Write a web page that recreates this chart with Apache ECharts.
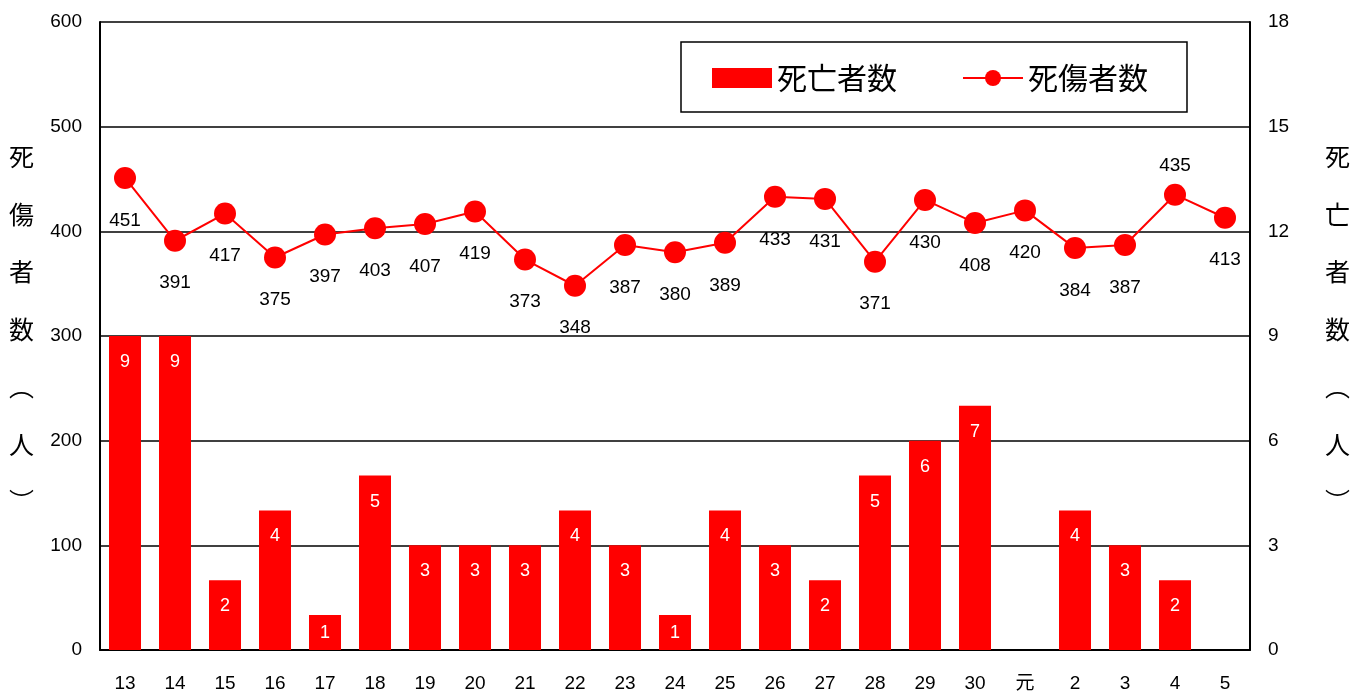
<!DOCTYPE html>
<html>
<head>
<meta charset="utf-8">
<script src="https://cdn.jsdelivr.net/npm/echarts@6/dist/echarts.min.js"></script>
<style>
  html, body { margin: 0; padding: 0; background: #fff; }
  #chart { width: 1354px; height: 693px; }
</style>
</head>
<body>
<div id="chart"></div>
<script>
// Year labels (平成13〜30, 令和元〜5)
const years = ['13','14','15','16','17','18','19','20','21','22','23','24','25','26','27','28','29','30','元','2','3','4','5'];
// 死亡者数 (right axis); null = no fatalities recorded
const deaths = [9, 9, 2, 4, 1, 5, 3, 3, 3, 4, 3, 1, 4, 3, 2, 5, 6, 7, null, 4, 3, 2, null];
// 死傷者数 (left axis)
const casualties = [451, 391, 417, 375, 397, 403, 407, 419, 373, 348, 387, 380, 389, 433, 431, 371, 430, 408, 420, 384, 387, 435, 413];
// Axis tick settings
const leftTicks = { min: 0, max: 600, interval: 100 };
const rightTicks = { min: 0, max: 18, interval: 3 };
// Axis titles, written vertically
const leftTitle = '死傷者数︵人︶';
const rightTitle = '死亡者数︵人︶';

const NUM_FONT = '"Liberation Sans", Arial, sans-serif';
const JP_FONT = '"Noto Sans CJK JP", sans-serif';
const RED = '#ff0000';

// Casualty labels sit below the markers except where the line peaks near the legend
const labelAboveYears = ['4'];

const barData = deaths.map(v => {
  if (v == null) return null;
  // very short bars get their label centred instead of pinned to the top
  return v <= 1 ? { value: v, label: { position: 'inside' } } : v;
});

const lineData = casualties.map((v, i) =>
  labelAboveYears.includes(years[i])
    ? { value: v, label: { position: 'top', distance: 8 } }
    : v
);

// vertical axis title: one character per line
function verticalTitle(text, x, top) {
  return {
    type: 'text',
    left: x - 13,
    top: top,
    style: {
      text: text.split('').join('\n'),
      fontFamily: JP_FONT,
      fontSize: 25,
      lineHeight: 57.5,
      fill: '#000',
      align: 'left'
    }
  };
}

const chart = echarts.init(document.getElementById('chart'), null, { renderer: 'canvas' });

chart.setOption({
  animation: false,
  backgroundColor: '#fff',
  textStyle: { fontFamily: NUM_FONT },
  grid: { left: 100, right: 104, top: 22, bottom: 40, containLabel: false },
  graphic: [
    verticalTitle(leftTitle, 22, 128),
    verticalTitle(rightTitle, 1338, 128)
  ],
  legend: {
    left: 681,
    top: 42,
    orient: 'horizontal',
    borderColor: '#000',
    borderWidth: 1.5,
    padding: [21, 39, 19, 31],
    itemWidth: 60,
    itemHeight: 20,
    itemGap: 65,
    textStyle: { fontFamily: JP_FONT, fontSize: 30, color: '#000' },
    data: [
      { name: '死亡者数', icon: 'rect' },
      { name: '死傷者数' }
    ]
  },
  xAxis: {
    type: 'category',
    data: years,
    boundaryGap: true,
    axisLine: { lineStyle: { color: '#000', width: 2 } },
    axisTick: { inside: true, length: 6, lineStyle: { color: '#000', width: 1.5 } },
    axisLabel: { color: '#000', fontSize: 19, margin: 24, fontFamily: NUM_FONT + ', ' + JP_FONT }
  },
  yAxis: [
    {
      type: 'value',
      position: 'left',
      ...leftTicks,
      axisLine: { show: true, lineStyle: { color: '#000', width: 2 } },
      axisTick: { show: false },
      axisLabel: { color: '#000', fontSize: 19, margin: 18 },
      splitLine: { show: true, lineStyle: { color: '#000', width: 1.5 } }
    },
    {
      type: 'value',
      position: 'right',
      ...rightTicks,
      axisLine: { show: true, lineStyle: { color: '#000', width: 2 } },
      axisTick: { show: false },
      axisLabel: { color: '#000', fontSize: 19, margin: 18 },
      splitLine: { show: false }
    }
  ],
  series: [
    {
      name: '死亡者数',
      type: 'bar',
      yAxisIndex: 1,
      data: barData,
      barWidth: '64%',
      itemStyle: { color: RED },
      label: {
        show: true,
        position: 'insideTop',
        distance: 17,
        color: '#fff',
        fontSize: 18,
        fontFamily: NUM_FONT
      },
      z: 2
    },
    {
      name: '死傷者数',
      type: 'line',
      yAxisIndex: 0,
      data: lineData,
      symbol: 'circle',
      symbolSize: 22,
      lineStyle: { color: RED, width: 2 },
      itemStyle: { color: RED },
      label: {
        show: true,
        position: 'bottom',
        distance: 22,
        color: '#000',
        fontSize: 19,
        fontFamily: NUM_FONT
      },
      z: 3
    }
  ]
});
</script>
</body>
</html>
